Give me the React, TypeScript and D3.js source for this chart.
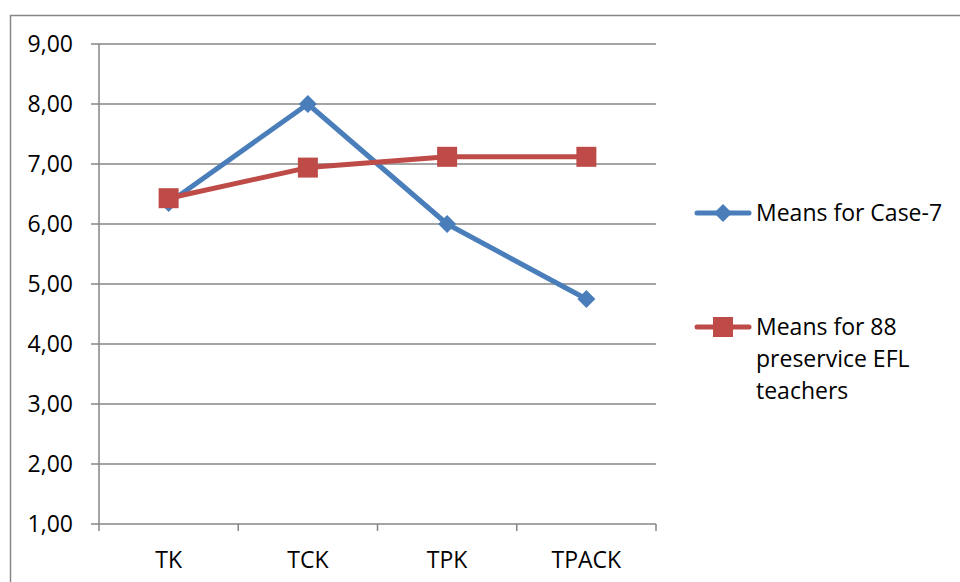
import React from "react";
import * as d3 from "d3";

const categories = ["TK", "TCK", "TPK", "TPACK"];
const case7 = [6.35, 8.0, 6.0, 4.75];
const preservice = [6.43, 6.94, 7.12, 7.12];
const yTicks = [1, 2, 3, 4, 5, 6, 7, 8, 9];
const seriesNames = ["Means for Case-7", "Means for 88 preservice EFL teachers"];

const W = 960, H = 582;
const plot = { left: 99, right: 656, top: 44, bottom: 524 };
const font = "'Open Sans', 'Noto Sans', sans-serif";
const FS = 23;
const BLUE = "#4a7ebb";
const RED = "#be4b48";

export default function App() {
  const x = d3.scaleBand<string>().domain(categories).range([plot.left, plot.right]);
  const y = d3.scaleLinear().domain([1, 9]).range([plot.bottom, plot.top]);
  const cx = (c: string) => (x(c) as number) + x.bandwidth() / 2;
  const line = d3.line<number>().x((_, i) => cx(categories[i])).y((d) => y(d));
  const fmt = (v: number) => v.toFixed(2).replace(".", ",");
  const diamond = (px: number, py: number, r: number) =>
    `M${px},${py - r}L${px + r},${py}L${px},${py + r}L${px - r},${py}Z`;
  const bounds = [...categories.map((c) => x(c) as number), plot.right];

  return (
    <svg width={W} height={H} style={{ position: "absolute", left: 0, top: 0, background: "#fff" }}>
      <rect x={0} y={0} width={W} height={H} fill="#fff" />
      <path d={`M10.5,${H + 5}V15.5H${W + 5}`} fill="none" stroke="#868686" strokeWidth={1.5} />
      {yTicks.map((t) => (
        <g key={t}>
          <line x1={plot.left - 8} x2={plot.right} y1={y(t)} y2={y(t)} stroke="#868686" strokeWidth={1.5} />
          <text x={73} y={y(t)} dy="0.36em" textAnchor="end" fontFamily={font} fontSize={FS} fill="#000">
            {fmt(t)}
          </text>
        </g>
      ))}
      <line x1={plot.left} x2={plot.left} y1={plot.top} y2={plot.bottom} stroke="#868686" strokeWidth={1.5} />
      {bounds.map((b, i) => (
        <line key={i} x1={b} x2={b} y1={plot.bottom} y2={plot.bottom + 7} stroke="#868686" strokeWidth={1.5} />
      ))}
      {categories.map((c) => (
        <text key={c} x={cx(c)} y={560} dy="0.36em" textAnchor="middle" fontFamily={font} fontSize={FS} fill="#000">
          {c}
        </text>
      ))}
      <path d={line(case7) || ""} fill="none" stroke={BLUE} strokeWidth={5} strokeLinejoin="round" />
      {case7.map((v, i) => (
        <path key={i} d={diamond(cx(categories[i]), y(v), 9)} fill={BLUE} />
      ))}
      <path d={line(preservice) || ""} fill="none" stroke={RED} strokeWidth={5} strokeLinejoin="round" />
      {preservice.map((v, i) => (
        <rect key={i} x={cx(categories[i]) - 10} y={y(v) - 10} width={20} height={20} fill={RED} />
      ))}
      {/* legend */}
      <line x1={697} x2={749} y1={213} y2={213} stroke={BLUE} strokeWidth={5} strokeLinecap="round" />
      <path d={diamond(723, 213, 9)} fill={BLUE} />
      <text x={756} y={213} dy="0.36em" fontFamily={font} fontSize={FS} fill="#000">{seriesNames[0]}</text>
      <line x1={697} x2={749} y1={327} y2={327} stroke={RED} strokeWidth={5} strokeLinecap="round" />
      <rect x={713} y={317} width={20} height={20} fill={RED} />
      <text x={756} y={327} dy="0.36em" fontFamily={font} fontSize={FS} fill="#000">
        <tspan x={756}>Means for 88</tspan>
        <tspan x={756} dy={32}>preservice EFL</tspan>
        <tspan x={756} dy={32}>teachers</tspan>
      </text>
    </svg>
  );
}
